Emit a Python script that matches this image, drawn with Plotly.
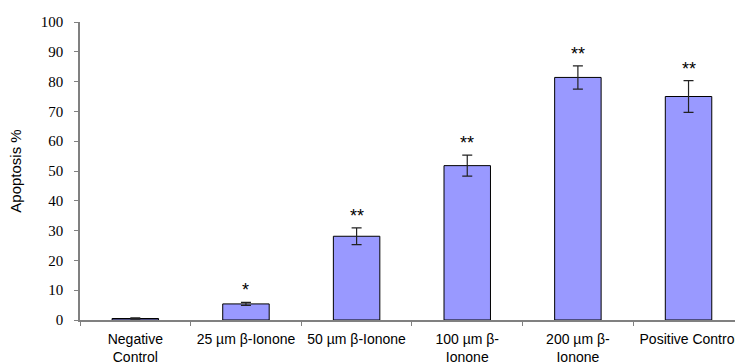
import plotly.graph_objects as go

categories = ["Negative<br>Control", "25 µm β-Ionone", "50 µm β-Ionone",
              "100 µm β-<br>Ionone", "200 µm β-<br>Ionone", "Positive Control"]
values = [0.5, 5.4, 28.1, 51.8, 81.4, 75.0]
errors = [0.2, 0.5, 2.8, 3.5, 3.9, 5.3]
marks = ["", "*", "**", "**", "**", "**"]
y_ticks = list(range(0, 101, 10))

fig = go.Figure()
fig.add_trace(go.Bar(
    x=categories, y=values,
    width=0.42,
    marker=dict(color="#9999FF", line=dict(color="#000000", width=1)),
    error_y=dict(type="data", array=errors, visible=True, color="#222222",
                 thickness=1.2, width=5),
))

for c, v, e, m in zip(categories, values, errors, marks):
    if m:
        fig.add_annotation(x=c, y=v + e, text=m, showarrow=False, yshift=12,
                           font=dict(family="Liberation Sans", size=18, color="#000"))

fig.update_layout(
    width=735, height=364,
    margin=dict(l=80, r=0, t=22, b=44),
    plot_bgcolor="white", paper_bgcolor="white",
    showlegend=False,
    font=dict(family="Liberation Sans", size=13, color="#000"),
)
fig.update_xaxes(
    range=[-0.5, 5.42], automargin=False,
    showline=True, linecolor="#808080", linewidth=1.5,
    ticks="outside", tickson="boundaries", ticklen=4, tickcolor="#808080",
    tickfont=dict(family="Liberation Sans", size=14, color="#000"),
    ticklabelstandoff=5,
    showgrid=False,
)
fig.update_yaxes(
    range=[0, 100], tickvals=y_ticks, automargin=False,
    showline=True, linecolor="#808080", linewidth=1.5,
    ticks="outside", ticklen=4, tickcolor="#808080",
    tickfont=dict(family="Liberation Serif", size=15, color="#000"),
    ticklabelstandoff=8,
    showgrid=False, zeroline=False,
    title=dict(text="Apoptosis %", standoff=16,
               font=dict(family="Liberation Sans", size=15, color="#000")),
)

fig.write_html("out.html")
